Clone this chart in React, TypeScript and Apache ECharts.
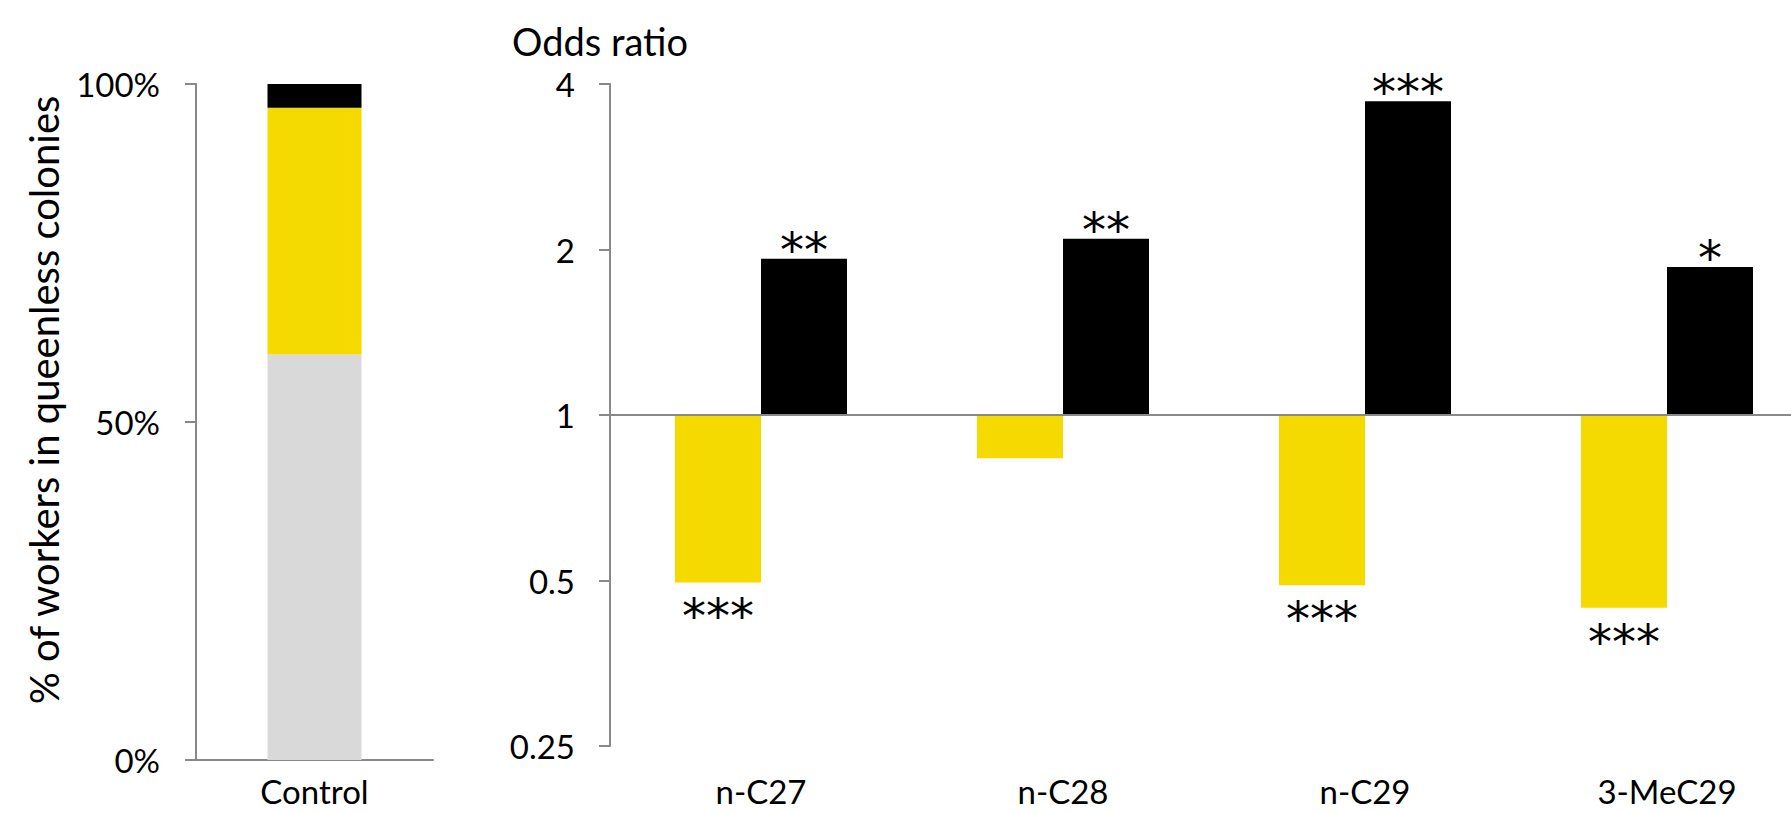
import React, { useEffect, useRef } from "react";
import * as echarts from "echarts";

// Control colony composition (% of workers)
const controlCategory = ["Control"];
const controlGray = [60];
const controlYellow = [36.5];
const controlBlack = [3.5];
const percentTicks = [0, 50, 100];

// Odds ratios per compound
const compounds = ["n-C27", "n-C28", "n-C29", "3-MeC29"];
const yellowOdds = [0.496, 0.834, 0.49, 0.446];
const blackOdds = [1.924, 2.092, 3.72, 1.858];
const yellowStars = ["***", "", "***", "***"];
const blackStars = ["**", "**", "***", "*"];
const oddsTicks = [0.25, 0.5, 1, 2, 4];

const FONT = "Lato, 'Noto Sans', sans-serif";
const STAR_FONT = "'DejaVu Sans', sans-serif";
const AXIS_GREY = "#898989";
const YELLOW = "#F5DA00";
const GREY = "#D9D9D9";
const BLACK = "#000000";

export default function App() {
  const ref = useRef<HTMLDivElement>(null);

  useEffect(() => {
    document.body.style.margin = "0";
    if (!ref.current) return;
    const chart = echarts.init(ref.current, null, { renderer: "svg" });

    const axisLine = { show: true, lineStyle: { color: AXIS_GREY, width: 2 } };
    const axisTick = { show: true, length: 11, lineStyle: { color: AXIS_GREY, width: 2 } };
    const labelText = { color: "#000", fontFamily: FONT, fontSize: 33, lineHeight: 34 };

    const starLabel = (pos: string, stars: string[], dist: number, dy: number) => ({
      show: true,
      position: pos,
      distance: dist,
      offset: [0, dy],
      formatter: (p: any) => stars[p.dataIndex],
      color: "#000",
      fontFamily: STAR_FONT,
      fontSize: 48,
    });

    chart.setOption({
      animation: false,
      backgroundColor: "#fff",
      grid: [
        { left: 196, top: 84, width: 237, height: 676, outerBoundsMode: "none" },
        { left: 610, top: 84, width: 1208, height: 662, outerBoundsMode: "none" },
      ],
      xAxis: [
        {
          type: "category",
          gridIndex: 0,
          data: controlCategory,
          axisLine,
          axisTick: { show: false },
          axisLabel: { ...labelText, margin: 14 },
        },
        {
          type: "category",
          gridIndex: 1,
          data: compounds,
          axisLine: { show: false },
          axisTick: { show: false },
          axisLabel: { ...labelText, margin: 28 },
        },
      ],
      yAxis: [
        {
          type: "value",
          gridIndex: 0,
          min: percentTicks[0],
          max: percentTicks[percentTicks.length - 1],
          interval: percentTicks[1] - percentTicks[0],
          axisLine,
          axisTick,
          splitLine: { show: false },
          axisLabel: { ...labelText, margin: 36, formatter: "{value}%" },
        },
        {
          type: "log",
          logBase: 2,
          gridIndex: 1,
          min: oddsTicks[0],
          max: oddsTicks[oddsTicks.length - 1],
          axisLine,
          axisTick,
          splitLine: { show: false },
          axisLabel: {
            ...labelText,
            margin: 35,
            formatter: (v: number) => String(Math.round(v * 100) / 100),
          },
        },
      ],
      series: [
        {
          type: "bar",
          name: "control-grey",
          xAxisIndex: 0,
          yAxisIndex: 0,
          stack: "control",
          barWidth: 94,
          data: controlGray,
          itemStyle: { color: GREY },
        },
        {
          type: "bar",
          name: "control-yellow",
          xAxisIndex: 0,
          yAxisIndex: 0,
          stack: "control",
          barWidth: 94,
          data: controlYellow,
          itemStyle: { color: YELLOW },
        },
        {
          type: "bar",
          name: "control-black",
          xAxisIndex: 0,
          yAxisIndex: 0,
          stack: "control",
          barWidth: 94,
          data: controlBlack,
          itemStyle: { color: BLACK },
        },
        {
          type: "bar",
          name: "yellow",
          xAxisIndex: 1,
          yAxisIndex: 1,
          barWidth: 86,
          barGap: "0%",
          data: yellowOdds,
          itemStyle: { color: YELLOW },
          label: starLabel("bottom", yellowStars, 10, 0),
        },
        {
          type: "bar",
          name: "black",
          xAxisIndex: 1,
          yAxisIndex: 1,
          barWidth: 86,
          barGap: "0%",
          data: blackOdds,
          itemStyle: { color: BLACK },
          label: starLabel("top", blackStars, 0, 15),
          markLine: {
            silent: true,
            symbol: "none",
            label: { show: false },
            lineStyle: { color: AXIS_GREY, width: 2, type: "solid" },
            data: [{ yAxis: 1 }],
          },
        },
      ],
      graphic: [
        {
          type: "text",
          x: 44,
          y: 400,
          rotation: Math.PI / 2,
          style: {
            text: "% of workers in queenless colonies",
            fontFamily: FONT,
            fontSize: 40,
            fill: "#000",
            textAlign: "center",
            textVerticalAlign: "middle",
          },
        },
        {
          type: "text",
          x: 512,
          y: 41,
          style: {
            text: "Odds ratio",
            fontFamily: FONT,
            fontSize: 38,
            fill: "#000",
            textAlign: "left",
            textVerticalAlign: "middle",
          },
        },
      ],
    });

    return () => chart.dispose();
  }, []);

  return <div ref={ref} style={{ width: 1791, height: 813 }} />;
}
